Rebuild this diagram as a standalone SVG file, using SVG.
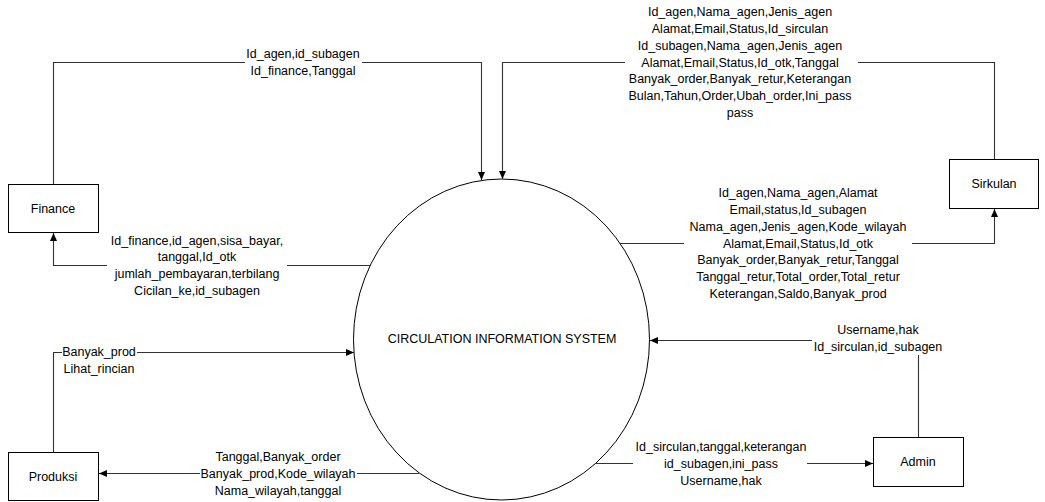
<svg xmlns="http://www.w3.org/2000/svg" width="1045" height="502" viewBox="0 0 1045 502">
<style>
.conn{fill:none;stroke:#333;stroke-width:1.1}
.box{fill:#fff;stroke:#000;stroke-width:1}
.t{font-family:"Liberation Sans",Arial,sans-serif;font-size:12.5px;fill:#000;text-anchor:middle}
</style>
<defs>
<marker id="arr" markerUnits="userSpaceOnUse" markerWidth="9" markerHeight="8" refX="8" refY="4" orient="auto">
<path d="M0,0.5 L8,4 L0,7.5 z" fill="#000"/>
</marker>
</defs>
<rect width="1045" height="502" fill="#fff"/>

<g id="process">
<ellipse cx="501.5" cy="339.5" rx="148" ry="160.5" fill="#fff" stroke="#000" stroke-width="1"/>
<text class="t" x="502" y="342.5">CIRCULATION INFORMATION SYSTEM</text>
</g>

<g id="finance">
<rect class="box" x="8.5" y="184.5" width="90" height="48"/>
<text class="t" x="53" y="212.5">Finance</text>
</g>

<g id="produksi">
<rect class="box" x="8.5" y="452.5" width="90" height="48"/>
<text class="t" x="53" y="480.5">Produksi</text>
</g>

<g id="sirkulan">
<rect class="box" x="949.5" y="159.5" width="89" height="49"/>
<text class="t" x="994" y="188">Sirkulan</text>
</g>

<g id="admin">
<rect class="box" x="873.5" y="437.5" width="90" height="49"/>
<text class="t" x="918" y="466">Admin</text>
</g>

<g id="connectors">
<!-- Finance -> system (top) -->
<path class="conn" d="M53.5,184 V62.5 H245"/>
<path class="conn" d="M362,62.5 H481.5 V180" marker-end="url(#arr)"/>
<text class="t" x="303" y="57.5">Id_agen,id_subagen</text>
<text class="t" x="303" y="74.5">Id_finance,Tanggal</text>

<!-- Sirkulan -> system (top) -->
<path class="conn" d="M994.5,159 V62.5 H858"/>
<path class="conn" d="M625,62.5 H502.5 V179" marker-end="url(#arr)"/>
<text class="t" x="740" y="16.4">Id_agen,Nama_agen,Jenis_agen</text>
<text class="t" x="740" y="33.1">Alamat,Email,Status,Id_sirculan</text>
<text class="t" x="740" y="49.8">Id_subagen,Nama_agen,Jenis_agen</text>
<text class="t" x="740" y="66.5">Alamat,Email,Status,Id_otk,Tanggal</text>
<text class="t" x="740" y="83.2">Banyak_order,Banyak_retur,Keterangan</text>
<text class="t" x="740" y="99.9">Bulan,Tahun,Order,Ubah_order,Ini_pass</text>
<text class="t" x="740" y="116.6">pass</text>

<!-- system -> Sirkulan -->
<path class="conn" d="M620,243.5 H684"/>
<path class="conn" d="M912,243.5 H994.5 V209" marker-end="url(#arr)"/>
<text class="t" x="798" y="197.4">Id_agen,Nama_agen,Alamat</text>
<text class="t" x="798" y="214.1">Email,status,Id_subagen</text>
<text class="t" x="798" y="230.8">Nama_agen,Jenis_agen,Kode_wilayah</text>
<text class="t" x="798" y="247.5">Alamat,Email,Status,Id_otk</text>
<text class="t" x="798" y="264.2">Banyak_order,Banyak_retur,Tanggal</text>
<text class="t" x="798" y="280.9">Tanggal_retur,Total_order,Total_retur</text>
<text class="t" x="798" y="297.6">Keterangan,Saldo,Banyak_prod</text>

<!-- system -> Finance -->
<path class="conn" d="M370,265.5 H287"/>
<path class="conn" d="M107,265.5 H53.5 V233" marker-end="url(#arr)"/>
<text class="t" x="197" y="244.5">Id_finance,id_agen,sisa_bayar,</text>
<text class="t" x="197" y="261.2">tanggal,Id_otk</text>
<text class="t" x="197" y="277.8">jumlah_pembayaran,terbilang</text>
<text class="t" x="197" y="294.5">Cicilan_ke,id_subagen</text>

<!-- Produksi -> system -->
<path class="conn" d="M53.5,452 V352.5 H62"/>
<path class="conn" d="M137,352.5 H354" marker-end="url(#arr)"/>
<text class="t" x="99" y="355.5">Banyak_prod</text>
<text class="t" x="99" y="372.5">Lihat_rincian</text>

<!-- system -> Produksi -->
<path class="conn" d="M419,473.5 H357"/>
<path class="conn" d="M200,473.5 H99" marker-end="url(#arr)"/>
<text class="t" x="278" y="460.5">Tanggal,Banyak_order</text>
<text class="t" x="278" y="477.5">Banyak_prod,Kode_wilayah</text>
<text class="t" x="278" y="494.5">Nama_wilayah,tanggal</text>

<!-- Admin -> system -->
<path class="conn" d="M918.5,437 V355"/>
<path class="conn" d="M812,340.5 H650" marker-end="url(#arr)"/>
<text class="t" x="878" y="333.5">Username,hak</text>
<text class="t" x="878" y="350.5">Id_sirculan,id_subagen</text>

<!-- system -> Admin -->
<path class="conn" d="M596,463.5 H633"/>
<path class="conn" d="M807,463.5 H873" marker-end="url(#arr)"/>
<text class="t" x="721" y="450.5">Id_sirculan,tanggal,keterangan</text>
<text class="t" x="721" y="467.5">id_subagen,ini_pass</text>
<text class="t" x="721" y="484.5">Username,hak</text>
</g>
</svg>
